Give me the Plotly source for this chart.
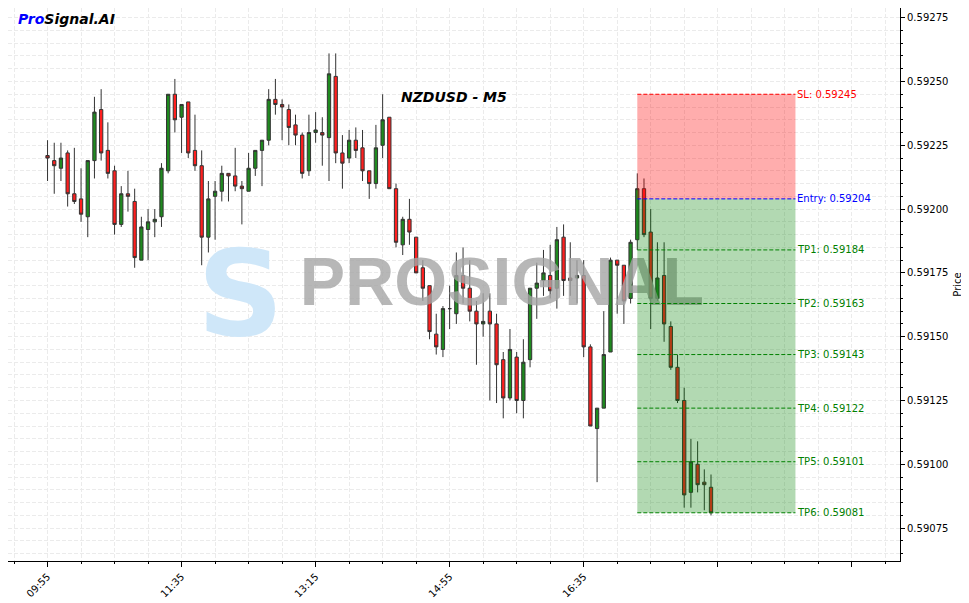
import plotly.graph_objects as go

# ---------------- data ----------------
opens = [0.59221, 0.59219, 0.59216, 0.59222, 0.59206, 0.59204, 0.59197, 0.59219, 0.59239, 0.59223,
         0.59215, 0.59194, 0.59206, 0.59203, 0.59180, 0.59192, 0.59195, 0.59197, 0.59215, 0.59245,
         0.59236, 0.59242, 0.59223, 0.59217, 0.59189, 0.59205, 0.59207, 0.59214, 0.59213, 0.59209,
         0.59207, 0.59216, 0.59223, 0.59227, 0.59243, 0.59241, 0.59239, 0.59233, 0.59229, 0.59215,
         0.59230, 0.59230, 0.59228, 0.59252, 0.59222, 0.59220, 0.59227, 0.59224, 0.59215, 0.59210,
         0.59225, 0.59236, 0.59208, 0.59186, 0.59196, 0.59189, 0.59177, 0.59170, 0.59151, 0.59145,
         0.59161, 0.59159, 0.59174, 0.59169, 0.59160, 0.59155, 0.59160, 0.59155, 0.59141, 0.59126,
         0.59142, 0.59125, 0.59141, 0.59169, 0.59172, 0.59174, 0.59169, 0.59189, 0.59173, 0.59173,
         0.59174, 0.59146, 0.59114, 0.59122, 0.59144, 0.59180, 0.59178, 0.59165, 0.59188, 0.59208,
         0.59191, 0.59165, 0.59174, 0.59154, 0.59138, 0.59125, 0.59089, 0.59100, 0.59093, 0.59091]
highs = [0.59227, 0.59226, 0.59226, 0.59223, 0.59224, 0.59216, 0.59219, 0.59244, 0.59247, 0.59234,
         0.59217, 0.59209, 0.59215, 0.59208, 0.59197, 0.59200, 0.59200, 0.59218, 0.59245, 0.59251,
         0.59241, 0.59242, 0.59237, 0.59223, 0.59211, 0.59211, 0.59217, 0.59214, 0.59224, 0.59211,
         0.59222, 0.59223, 0.59227, 0.59247, 0.59251, 0.59243, 0.59241, 0.59237, 0.59230, 0.59237,
         0.59238, 0.59236, 0.59261, 0.59261, 0.59229, 0.59231, 0.59232, 0.59231, 0.59215, 0.59233,
         0.59245, 0.59236, 0.59210, 0.59197, 0.59204, 0.59189, 0.59180, 0.59170, 0.59159, 0.59162,
         0.59170, 0.59183, 0.59185, 0.59180, 0.59164, 0.59167, 0.59167, 0.59159, 0.59144, 0.59153,
         0.59144, 0.59149, 0.59169, 0.59179, 0.59184, 0.59186, 0.59193, 0.59194, 0.59187, 0.59180,
         0.59180, 0.59147, 0.59122, 0.59160, 0.59181, 0.59180, 0.59178, 0.59188, 0.59214, 0.59212,
         0.59200, 0.59187, 0.59187, 0.59156, 0.59143, 0.59130, 0.59110, 0.59109, 0.59098, 0.59096]
lows = [0.59211, 0.59206, 0.59211, 0.59201, 0.59202, 0.59195, 0.59189, 0.59212, 0.59219, 0.59212,
        0.59190, 0.59193, 0.59199, 0.59177, 0.59180, 0.59180, 0.59189, 0.59193, 0.59214, 0.59230,
        0.59222, 0.59220, 0.59215, 0.59178, 0.59183, 0.59188, 0.59203, 0.59203, 0.59207, 0.59194,
        0.59207, 0.59213, 0.59209, 0.59225, 0.59237, 0.59227, 0.59225, 0.59225, 0.59212, 0.59213,
        0.59226, 0.59217, 0.59211, 0.59218, 0.59208, 0.59218, 0.59220, 0.59211, 0.59204, 0.59208,
        0.59220, 0.59208, 0.59185, 0.59182, 0.59186, 0.59175, 0.59164, 0.59149, 0.59143, 0.59142,
        0.59153, 0.59155, 0.59163, 0.59156, 0.59139, 0.59150, 0.59125, 0.59124, 0.59118, 0.59125,
        0.59120, 0.59118, 0.59138, 0.59157, 0.59166, 0.59165, 0.59161, 0.59166, 0.59166, 0.59163,
        0.59142, 0.59115, 0.59093, 0.59122, 0.59144, 0.59159, 0.59155, 0.59163, 0.59184, 0.59189,
        0.59153, 0.59164, 0.59148, 0.59137, 0.59124, 0.59083, 0.59083, 0.59089, 0.59082, 0.59080]
closes = [0.59220, 0.59217, 0.59220, 0.59206, 0.59203, 0.59198, 0.59219, 0.59238, 0.59222, 0.59214,
          0.59194, 0.59206, 0.59205, 0.59181, 0.59193, 0.59195, 0.59196, 0.59216, 0.59245, 0.59235,
          0.59241, 0.59222, 0.59217, 0.59189, 0.59204, 0.59207, 0.59214, 0.59213, 0.59209, 0.59208,
          0.59216, 0.59223, 0.59227, 0.59243, 0.59241, 0.59240, 0.59232, 0.59229, 0.59214, 0.59230,
          0.59231, 0.59229, 0.59253, 0.59222, 0.59218, 0.59227, 0.59223, 0.59215, 0.59210, 0.59224,
          0.59235, 0.59208, 0.59187, 0.59196, 0.59191, 0.59175, 0.59169, 0.59152, 0.59146, 0.59161,
          0.59161, 0.59174, 0.59169, 0.59160, 0.59155, 0.59156, 0.59155, 0.59139, 0.59126, 0.59145,
          0.59125, 0.59140, 0.59169, 0.59171, 0.59175, 0.59168, 0.59188, 0.59172, 0.59172, 0.59174,
          0.59146, 0.59115, 0.59122, 0.59143, 0.59180, 0.59178, 0.59164, 0.59187, 0.59208, 0.59190,
          0.59165, 0.59173, 0.59155, 0.59138, 0.59125, 0.59088, 0.59101, 0.59092, 0.59092, 0.59081]

candle_index = list(range(len(opens)))          # one candle every 5 minutes from 09:55
tick_positions = [0, 20, 40, 60, 80, 100, 120]
tick_labels = ["09:55", "11:35", "13:15", "14:55", "16:35", "", ""]

symbol_title = "NZDUSD - M5"
sl_price = 0.59245
entry_price = 0.59204
tp_names = ["TP1", "TP2", "TP3", "TP4", "TP5", "TP6"]
tp_prices = [0.59184, 0.59163, 0.59143, 0.59122, 0.59101, 0.59081]
zone_start = 88
zone_end = 111.6

# ---------------- figure ----------------
FONT = "DejaVu Sans"
fig = go.Figure()

# watermark (drawn beneath candles)
fig.add_trace(go.Scatter(x=[28.8], y=[0.591625], mode="text", text=["<b>S</b>"],
                         textfont=dict(size=120, color="#cfe7f9", family="DejaVu Sans"),
                         hoverinfo="skip", showlegend=False))
fig.add_trace(go.Scatter(x=[67.8], y=[0.591690], mode="text", text=["<b>PROSIGNAL</b>"],
                         textfont=dict(size=68, color="rgba(165,165,165,0.8)", family="Liberation Sans"),
                         hoverinfo="skip", showlegend=False))

fig.add_trace(go.Candlestick(
    x=candle_index, open=opens, high=highs, low=lows, close=closes,
    increasing=dict(fillcolor="#1f8a1f", line=dict(color="#333333", width=1)),
    decreasing=dict(fillcolor="#ff1f1f", line=dict(color="#333333", width=1)),
    whiskerwidth=0, showlegend=False, hoverinfo="skip"))

# trade zones (on top, semi-transparent)
fig.add_shape(type="rect", xref="x", yref="y", x0=zone_start, x1=zone_end,
              y0=entry_price, y1=sl_price, fillcolor="#ff0000", opacity=0.32,
              line=dict(width=0), layer="above")
fig.add_shape(type="rect", xref="x", yref="y", x0=zone_start, x1=zone_end,
              y0=tp_prices[-1], y1=entry_price, fillcolor="#008000", opacity=0.3,
              line=dict(width=0), layer="above")

levels = [("SL", sl_price, "#ff0000"), ("Entry", entry_price, "#0000ff")]
levels += [(n, p, "#008000") for n, p in zip(tp_names, tp_prices)]
for name, price, col in levels:
    fig.add_shape(type="line", xref="x", yref="y", x0=zone_start, x1=zone_end,
                  y0=price, y1=price, line=dict(color=col, width=1, dash="4px,2px"),
                  layer="above")
    fig.add_annotation(x=zone_end, y=price, xref="x", yref="y", text=f"{name}: {price:.5f}",
                       showarrow=False, xanchor="left", yanchor="middle",
                       font=dict(family=FONT, size=10, color=col))

fig.add_annotation(x=0.5, y=0.839, xref="paper", yref="paper",
                   text=f"<b><i>{symbol_title}</i></b>", showarrow=False,
                   xanchor="center", yanchor="middle",
                   font=dict(family=FONT, size=14, color="black"))
fig.add_annotation(x=0.009, y=0.981, xref="paper", yref="paper",
                   text="<b><i><span style='color:#0000ff'>Pro</span>Signal.AI</i></b>",
                   showarrow=False, xanchor="left", yanchor="middle",
                   font=dict(family=FONT, size=14, color="black"))

GRID = "#ebebeb"
fig.update_layout(
    width=969, height=603,
    margin=dict(l=0, r=77, t=0, b=50, autoexpand=False),
    paper_bgcolor="white", plot_bgcolor="white",
    font=dict(family=FONT, size=10, color="black"),
    showlegend=False,
    xaxis=dict(
        range=[-5.9, 127.2], rangeslider=dict(visible=False),
        tickmode="array", tickvals=tick_positions, ticktext=tick_labels,
        tickangle=-45, ticks="outside", ticklen=5, tickcolor="black",
        tickfont=dict(size=10, color="black"),
        showline=True, linecolor="black", linewidth=1, mirror=True,
        showgrid=True, gridcolor=GRID, griddash="4px,2px", zeroline=False,
        minor=dict(tickmode="linear", tick0=0, dtick=5, ticks="outside", ticklen=2,
                   tickcolor="black", showgrid=True, gridcolor=GRID, griddash="4px,2px"),
    ),
    yaxis=dict(
        side="right", range=[0.590621, 0.592788],
        tickmode="linear", tick0=0.59, dtick=0.00025, tickformat=".5f",
        ticks="outside", ticklen=4, tickcolor="black",
        tickfont=dict(size=10, color="black"),
        showline=True, linecolor="black", linewidth=1, mirror=True,
        showgrid=True, gridcolor=GRID, griddash="4px,2px", zeroline=False,
        minor=dict(tickmode="linear", tick0=0.59, dtick=0.00005, ticks="outside", ticklen=2,
                   tickcolor="black", showgrid=True, gridcolor=GRID, griddash="4px,2px"),
        title=dict(text="Price", font=dict(size=10, color="black"), standoff=6),
    ),
)

fig.write_html("out.html")
